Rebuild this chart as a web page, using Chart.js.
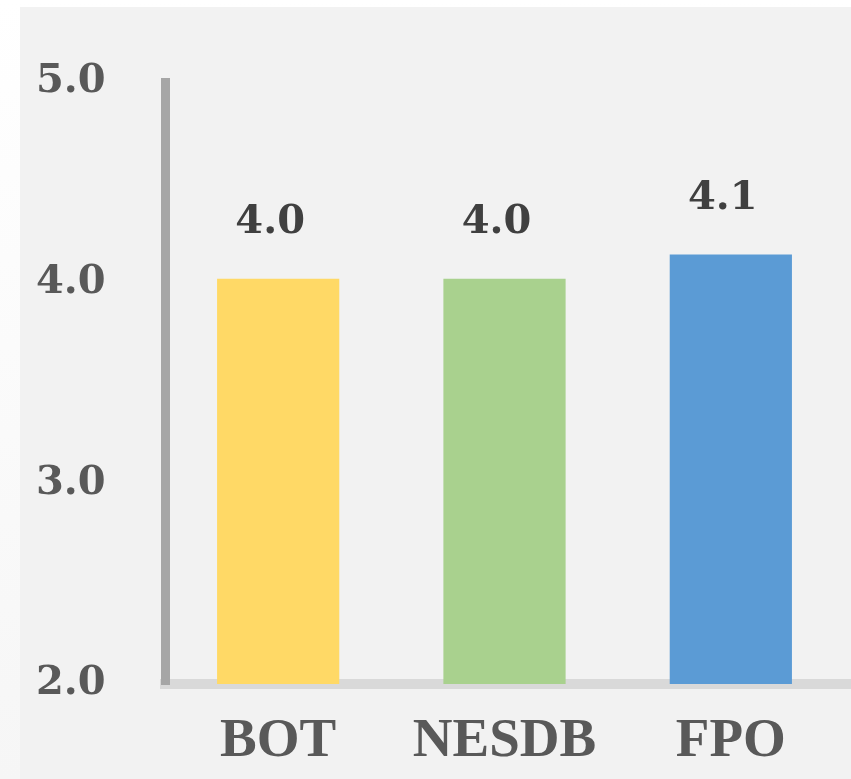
<!DOCTYPE html>
<html>
<head>
<meta charset="utf-8">
<script src="https://cdn.jsdelivr.net/npm/chart.js@4"></script>
<style>
  html, body { margin: 0; padding: 0; }
  body {
    width: 851px; height: 779px; overflow: hidden; position: relative;
    background: linear-gradient(#ffffff, #f6f6f6);
  }
  #panel { position: absolute; left: 20px; top: 7px; right: 0; bottom: 0; background: #f2f2f2; }
  #wrap { position: absolute; left: 0; top: 0; width: 851px; height: 779px; }
</style>
</head>
<body>
<div id="panel"></div>
<div id="wrap"><canvas id="chart"></canvas></div>
<script>
// data
const categories = ["BOT", "NESDB", "FPO"];
const scores = [4.02, 4.02, 4.14];
const barColors = ["#FFD966", "#A9D18E", "#5B9BD5"];
const yTicks = [2, 3, 4, 5];

// value labels above each bar
const valueLabels = {
  id: "valueLabels",
  afterDatasetsDraw(chart) {
    const ctx = chart.ctx;
    const meta = chart.getDatasetMeta(0);
    ctx.save();
    ctx.font = "bold 40px 'DejaVu Serif'";
    ctx.fillStyle = "#404040";
    ctx.textAlign = "center";
    ctx.textBaseline = "middle";
    meta.data.forEach((bar, i) => {
      ctx.fillText(scores[i].toFixed(1), bar.x - 8, bar.y - 56);
    });
    ctx.restore();
  }
};

// x axis line runs on to the right edge of the picture
const axisTail = {
  id: "axisTail",
  afterDraw(chart) {
    const { ctx, chartArea } = chart;
    ctx.save();
    ctx.fillStyle = "#d9d9d9";
    ctx.fillRect(chartArea.right, chartArea.bottom - 5, chart.width - chartArea.right, 10);
    ctx.restore();
  }
};

new Chart(document.getElementById("chart"), {
  type: "bar",
  data: {
    labels: categories,
    datasets: [{
      data: scores,
      backgroundColor: barColors,
      borderWidth: 0,
      categoryPercentage: 1,
      barPercentage: 0.54
    }]
  },
  options: {
    responsive: true,
    maintainAspectRatio: false,
    animation: false,
    layout: { padding: { top: 82, left: 36, right: 7, bottom: 0 } },
    plugins: { legend: { display: false }, tooltip: { enabled: false } },
    scales: {
      x: {
        z: 1,
        grid: { display: false },
        border: { display: true, color: "#d9d9d9", width: 10 },
        ticks: {
          padding: 17,
          color: "#595959",
          font: { family: "'Liberation Serif'", size: 55, weight: "bold" }
        },
        afterFit(scale) { scale.height = 95; }
      },
      y: {
        z: 1,
        min: 2,
        max: 5,
        grid: { display: false },
        border: { display: true, color: "#a6a6a6", width: 9 },
        afterBuildTicks(scale) { scale.ticks = yTicks.map(v => ({ value: v })); },
        ticks: {
          crossAlign: "far",
          color: "#595959",
          font: { family: "'DejaVu Serif'", size: 40, weight: "bold" },
          callback: v => v.toFixed(1)
        },
        afterFit(scale) { scale.width = 129; }
      }
    }
  },
  plugins: [valueLabels, axisTail]
});
</script>
</body>
</html>
